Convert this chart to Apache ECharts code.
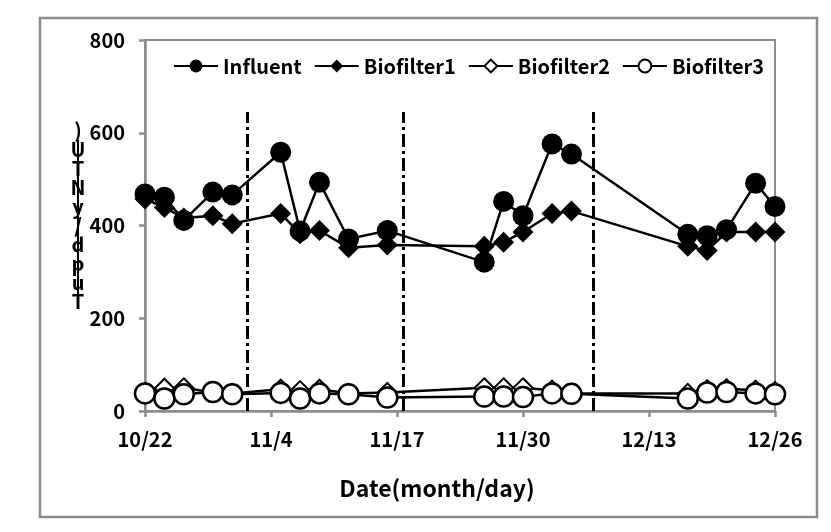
<!DOCTYPE html>
<html>
<head>
<meta charset="utf-8">
<script src="https://cdn.jsdelivr.net/npm/echarts@6/dist/echarts.min.js"></script>
<style>
html,body{margin:0;padding:0;background:#fff;}
#chart{width:831px;height:532px;}
</style>
</head>
<body>
<div id="chart"></div>
<script>
// ---- data ----
const startDate = '10/22';
const sampleDates = ['10/22','10/24','10/26','10/29','10/31','11/5','11/7','11/9','11/12','11/16',
                     '11/26','11/28','11/30','12/3','12/5','12/17','12/19','12/21','12/24','12/26'];
const influent   = [468, 461, 411, 472, 466, 558, 388, 493, 371, 389, 321, 452, 421, 576, 554, 381, 378, 391, 491, 441];
const biofilter1 = [457, 439, 416, 421, 404, 426, 382, 389, 352, 358, 355, 364, 386, 426, 431, 355, 346, 386, 386, 386];
const biofilter2 = [40, 49, 50, 40, 38, 47, 44, 47, 38, 40, 50, 50, 50, 45, 38, 38, 46, 48, 45, 42];
const biofilter3 = [38, 27, 36, 41, 36, 39, 27, 38, 36, 29, 31, 31, 30, 38, 37, 27, 40, 41, 38, 36];
const xTickLabels = ['10/22','11/4','11/17','11/30','12/13','12/26'];
const phaseBoundaryDays = [10.5, 26.6, 46.2];
const phaseLineTop = 645;
const seriesNames = ['Influent','Biofilter1','Biofilter2','Biofilter3'];
const xAxisTitle = 'Date(month/day)';
const yAxisLabelGlyphs = [')','U','T','N','y','/','d','p','u','T'];

// ---- helpers ----
function dayOffset(md) {
  const [m, d] = md.split('/').map(Number);
  const [m0, d0] = startDate.split('/').map(Number);
  const t = Date.UTC(2012, m - 1, d) - Date.UTC(2012, m0 - 1, d0);
  return Math.round(t / 86400000);
}
const xs = sampleDates.map(dayOffset);
const pair = arr => arr.map((v, i) => [xs[i], v]);

const FONT = '"Noto Sans CJK KR", "Noto Sans", sans-serif';
const chart = echarts.init(document.getElementById('chart'), null, {renderer: 'canvas'});

const markLineData = phaseBoundaryDays.map(d => [{coord: [d, 0]}, {coord: [d, phaseLineTop]}]);

const option = {
  backgroundColor: '#fff',
  animation: false,
  grid: {
    left: 145, right: 56, top: 40, bottom: 121,
    show: true, borderColor: '#8c8c8c', borderWidth: 2, backgroundColor: 'transparent'
  },
  legend: {
    data: seriesNames,
    left: 168, top: 51,
    itemWidth: 44, itemHeight: 16, itemGap: 12,
    textStyle: {fontFamily: FONT, fontWeight: 'bold', fontSize: 20, color: '#000'}
  },
  xAxis: {
    type: 'value', min: 0, max: 65, interval: 13,
    axisLine: {show: true, lineStyle: {color: '#8c8c8c', width: 2.5}},
    axisTick: {show: true, length: 6, lineStyle: {color: '#8c8c8c', width: 2.5}},
    splitLine: {show: false},
    axisLabel: {
      margin: 18, color: '#000', fontFamily: FONT, fontWeight: 'bold', fontSize: 20,
      formatter: v => xTickLabels[Math.round(v / 13)] || ''
    }
  },
  yAxis: {
    type: 'value', min: 0, max: 800, interval: 200,
    axisLine: {show: true, lineStyle: {color: '#8c8c8c', width: 2.5}},
    axisTick: {show: true, length: 6, lineStyle: {color: '#8c8c8c', width: 2.5}},
    splitLine: {show: false},
    axisLabel: {margin: 20, color: '#000', fontFamily: FONT, fontWeight: 'bold', fontSize: 20}
  },
  graphic: [
    {type: 'rect', shape: {x: 40, y: 18, width: 777, height: 499}, silent: true,
     style: {fill: 'none', stroke: '#8c8c8c', lineWidth: 2.5}, z: -1},
    {type: 'text', x: 437, y: 488, silent: true,
     style: {text: xAxisTitle, fill: '#000', font: 'bold 23px ' + FONT, align: 'center', verticalAlign: 'middle'}},
    {type: 'line', shape: {x1: 78, y1: 140, x2: 78, y2: 308}, silent: true,
     style: {stroke: '#000', lineWidth: 2}},
    {type: 'text', x: 78, y: 121, silent: true,
     style: {text: yAxisLabelGlyphs.join('\n'), fill: '#000', font: 'bold 20px ' + FONT,
             lineHeight: 19, align: 'center'}}
  ],
  series: [
    {
      name: 'Influent', type: 'line', data: pair(influent),
      symbol: 'circle', symbolSize: 21,
      lineStyle: {color: '#000', width: 2.5}, itemStyle: {color: '#000'},
      z: 4
    },
    {
      name: 'Biofilter1', type: 'line', data: pair(biofilter1),
      symbol: 'diamond', symbolSize: 21,
      lineStyle: {color: '#000', width: 2.5}, itemStyle: {color: '#000'},
      z: 3
    },
    {
      name: 'Biofilter2', type: 'line', data: pair(biofilter2),
      symbol: 'diamond', symbolSize: 19,
      lineStyle: {color: '#000', width: 2.5}, itemStyle: {color: '#fff', borderColor: '#000', borderWidth: 2},
      z: 2,
      markLine: {
        silent: true, symbol: ['none','none'], label: {show: false},
        lineStyle: {color: '#000', width: 3, type: [13, 4, 3, 4]},
        data: markLineData
      }
    },
    {
      name: 'Biofilter3', type: 'line', data: pair(biofilter3),
      symbol: 'circle', symbolSize: 20,
      lineStyle: {color: '#000', width: 2.5}, itemStyle: {color: '#fff', borderColor: '#000', borderWidth: 2.5},
      z: 5
    }
  ]
};
chart.setOption(option);
</script>
</body>
</html>
